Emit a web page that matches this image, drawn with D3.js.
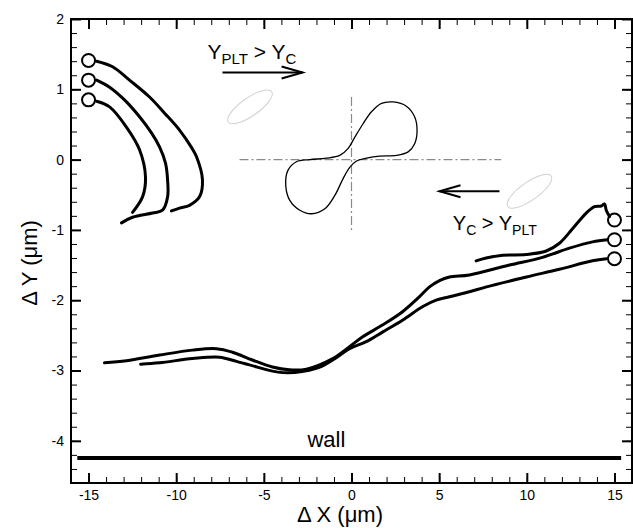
<!DOCTYPE html>
<html>
<head>
<meta charset="utf-8">
<script src="https://cdn.jsdelivr.net/npm/d3@7"></script>
<style>
  body { margin: 0; background: #fff; }
  text { font-family: 'Liberation Sans', Arial, sans-serif; }
</style>
</head>
<body>
<div id="chart"></div>
<script>
// tick values
const xTicks = [-15, -10, -5, 0, 5, 10, 15]
const yTicks = [2, 1, 0, -1, -2, -3, -4]

// start markers (circles)
const leftStarts = [[-15, 1.41], [-15, 1.13], [-15, 0.85]]
const rightStarts = [[15, -0.86], [15, -1.14], [15, -1.41]]

// trajectories starting on the left
const leftOuter = [[-14.54, 1.40], [-13.63, 1.32], [-12.66, 1.13], [-11.52, 0.89], [-10.66, 0.66],
  [-9.81, 0.42], [-9.12, 0.17], [-8.84, 0.04], [-8.50, -0.29], [-8.67, -0.53], [-9.24, -0.65],
  [-9.81, -0.69], [-10.27, -0.73]]
const leftMiddle = [[-14.54, 1.13], [-13.80, 1.03], [-12.95, 0.85], [-12.09, 0.61], [-11.41, 0.38],
  [-10.95, 0.18], [-10.61, -0.05], [-10.49, -0.29], [-10.49, -0.53], [-10.78, -0.72], [-11.35, -0.76],
  [-12.49, -0.82], [-13.12, -0.90]]
const leftInner = [[-14.54, 0.83], [-13.80, 0.75], [-12.83, 0.46], [-12.09, 0.14], [-11.75, -0.25],
  [-11.92, -0.53], [-12.49, -0.75]]

// trajectories starting on the right
const rightTop = [[7.11, -1.44], [7.68, -1.40], [8.63, -1.36], [9.96, -1.35], [11.11, -1.30],
  [11.86, -1.19], [12.62, -0.98], [13.39, -0.76], [13.86, -0.67], [14.24, -0.66], [14.43, -0.63],
  [14.53, -0.72], [14.72, -0.81]]
const rightMiddle = [[-14.09, -2.89], [-12.83, -2.86], [-10.95, -2.78], [-9.07, -2.71], [-7.70, -2.69],
  [-6.79, -2.74], [-5.65, -2.85], [-4.51, -2.95], [-3.54, -2.99], [-2.57, -2.98], [-1.07, -2.83],
  [-0.11, -2.66], [0.64, -2.52], [1.79, -2.35], [2.93, -2.16], [3.88, -1.95], [4.45, -1.81],
  [5.02, -1.72], [5.59, -1.67], [6.73, -1.64], [9.01, -1.50], [10.89, -1.39], [12.43, -1.26],
  [13.75, -1.17], [14.60, -1.14]]
const rightBottom = [[-12.03, -2.91], [-10.95, -2.89], [-9.07, -2.83], [-7.53, -2.81], [-6.56, -2.87],
  [-5.82, -2.92], [-3.92, -3.03], [-2.01, -2.97], [-1.07, -2.85], [-0.11, -2.69], [0.84, -2.59],
  [1.79, -2.45], [2.93, -2.28], [4.07, -2.09], [4.83, -2.00], [5.59, -1.95], [6.73, -1.88],
  [7.70, -1.81], [9.98, -1.67], [11.86, -1.56], [13.75, -1.44], [14.54, -1.41]]

// closed orbit in the middle
const orbit = [[2.37, 0.82], [3.13, 0.76], [3.60, 0.61], [3.74, 0.42], [3.61, 0.23], [3.23, 0.11],
  [2.57, 0.06], [1.61, 0.05], [0.86, 0.02], [0.29, -0.02], [-0.10, -0.11], [-0.48, -0.27],
  [-0.95, -0.51], [-1.52, -0.70], [-2.28, -0.77], [-2.95, -0.72], [-3.52, -0.58], [-3.75, -0.37],
  [-3.62, -0.15], [-3.14, -0.03], [-2.38, 0.00], [-1.43, 0.02], [-0.67, 0.06], [-0.19, 0.16],
  [0.19, 0.32], [0.66, 0.51], [1.14, 0.68], [1.71, 0.80]]

// crosshair, gray cells, arrows, wall
const crossX = [-6.39, 8.54]
const crossY = [-1.0, 0.89]
const cellCenters = [[-5.79, 0.75], [10.15, -0.45]]
const arrowRight = [[-7.36, 1.24], [-2.79, 1.24]]
const arrowLeft = [[8.44, -0.45], [5.02, -0.45]]
const wallLine = [[-15.64, -4.245], [15.38, -4.245]]
const wallLabel = [-2.51, -4.09]
const upperLabel = [-8.21, 1.43]
const lowerLabel = [5.78, -1.0]

const margin = { top: 19, left: 71, right: 1, bottom: 45 }
const width = 633 - margin.left - margin.right
const height = 528 - margin.top - margin.bottom

const root = d3.select('#chart')
  .append('svg')
  .attr('width', 633)
  .attr('height', 528)

const svg = root.append('g')
  .attr('transform', 'translate(' + margin.left + ',' + margin.top + ')')

const xScale = d3.scaleLinear().domain([-16, 16]).range([0, width])
const yScale = d3.scaleLinear().domain([-4.6, 2]).range([height, 0])

const xMinor = d3.range(-16, 16.01, 1)
const yMinor = d3.range(-4.6, 2.01, 0.2).map(v => Math.round(v * 10) / 10)

// axes, ticks pointing inward on all four sides
function styleAxis(g, w) {
  g.select('.domain').remove()
  g.selectAll('line').attr('stroke', '#000').attr('stroke-width', w)
  g.selectAll('text').attr('font-size', 14).attr('fill', '#000')
    .style('font-family', "'Liberation Sans', Arial, sans-serif")
}

svg.append('g').attr('transform', 'translate(0,' + height + ')')
  .call(d3.axisBottom(xScale).tickValues(xMinor).tickSize(-6).tickFormat(''))
  .call(g => styleAxis(g, 1))
svg.append('g').attr('transform', 'translate(0,' + height + ')')
  .call(d3.axisBottom(xScale).tickValues(xTicks).tickSize(-10).tickPadding(7).tickFormat(d => String(d)))
  .call(g => styleAxis(g, 2))
svg.append('g')
  .call(d3.axisTop(xScale).tickValues(xMinor).tickSize(-6).tickFormat(''))
  .call(g => styleAxis(g, 1))
svg.append('g')
  .call(d3.axisTop(xScale).tickValues(xTicks).tickSize(-10).tickFormat(''))
  .call(g => styleAxis(g, 2))

svg.append('g')
  .call(d3.axisLeft(yScale).tickValues(yMinor).tickSize(-6).tickFormat(''))
  .call(g => styleAxis(g, 1))
svg.append('g')
  .call(d3.axisLeft(yScale).tickValues(yTicks).tickSize(-10).tickPadding(7).tickFormat(d => String(d)))
  .call(g => styleAxis(g, 2))
svg.append('g').attr('transform', 'translate(' + width + ',0)')
  .call(d3.axisRight(yScale).tickValues(yMinor).tickSize(-6).tickFormat(''))
  .call(g => styleAxis(g, 1))
svg.append('g').attr('transform', 'translate(' + width + ',0)')
  .call(d3.axisRight(yScale).tickValues(yTicks).tickSize(-10).tickFormat(''))
  .call(g => styleAxis(g, 2))

svg.append('rect')
  .attr('width', width)
  .attr('height', height)
  .attr('fill', 'none')
  .attr('stroke', '#000')
  .attr('stroke-width', 2)

// axis titles
root.append('text')
  .attr('x', 340)
  .attr('y', 522)
  .attr('text-anchor', 'middle')
  .attr('font-size', 22)
  .text('\u0394 X (\u03bcm)')

root.append('text')
  .attr('transform', 'translate(37,263) rotate(-90)')
  .attr('text-anchor', 'middle')
  .attr('font-size', 22)
  .text('\u0394 Y (\u03bcm)')

const line = d3.line()
  .x(d => xScale(d[0]))
  .y(d => yScale(d[1]))
  .curve(d3.curveCatmullRom.alpha(0.5))

// crosshair
svg.append('line')
  .attr('x1', xScale(crossX[0])).attr('x2', xScale(crossX[1]))
  .attr('y1', yScale(0)).attr('y2', yScale(0))
  .attr('stroke', '#8a8a8a').attr('stroke-width', 1.2)
  .attr('stroke-dasharray', '9,3,2,3')
svg.append('line')
  .attr('x1', xScale(0)).attr('x2', xScale(0))
  .attr('y1', yScale(crossY[1])).attr('y2', yScale(crossY[0]))
  .attr('stroke', '#8a8a8a').attr('stroke-width', 1.2)
  .attr('stroke-dasharray', '9,3,2,3')

// faint cell outlines
svg.selectAll('.cell')
  .data(cellCenters)
  .enter()
  .append('ellipse')
  .attr('class', 'cell')
  .attr('transform', d => 'translate(' + xScale(d[0]) + ',' + yScale(d[1]) + ') rotate(-35)')
  .attr('rx', 26.5)
  .attr('ry', 9)
  .attr('fill', 'none')
  .attr('stroke', '#d0d0d0')
  .attr('stroke-width', 1)

// central orbit
svg.append('path')
  .datum(orbit)
  .attr('d', d3.line()
    .x(d => xScale(d[0]))
    .y(d => yScale(d[1]))
    .curve(d3.curveCatmullRomClosed.alpha(0.5)))
  .attr('fill', 'none')
  .attr('stroke', '#000')
  .attr('stroke-width', 1.3)

// trajectories
const trajectories = [leftOuter, leftMiddle, leftInner, rightTop, rightMiddle, rightBottom]
svg.selectAll('.traj')
  .data(trajectories)
  .enter()
  .append('path')
  .attr('class', 'traj')
  .attr('d', line)
  .attr('fill', 'none')
  .attr('stroke', '#000')
  .attr('stroke-width', 3)
  .attr('stroke-linecap', 'round')
  .attr('stroke-linejoin', 'round')

svg.selectAll('.start')
  .data(leftStarts.concat(rightStarts))
  .enter()
  .append('circle')
  .attr('class', 'start')
  .attr('cx', d => xScale(d[0]))
  .attr('cy', d => yScale(d[1]))
  .attr('r', 6.5)
  .attr('fill', 'none')
  .attr('stroke', '#000')
  .attr('stroke-width', 2)

// wall
svg.append('line')
  .attr('x1', xScale(wallLine[0][0])).attr('x2', xScale(wallLine[1][0]))
  .attr('y1', yScale(wallLine[0][1])).attr('y2', yScale(wallLine[1][1]))
  .attr('stroke', '#000')
  .attr('stroke-width', 4)
svg.append('text')
  .attr('x', xScale(wallLabel[0]))
  .attr('y', yScale(wallLabel[1]))
  .attr('font-size', 22)
  .text('wall')

// arrows with open heads
function drawArrow(pts) {
  const x1 = xScale(pts[0][0])
  const x2 = xScale(pts[1][0])
  const y = yScale(pts[0][1])
  const dir = x2 > x1 ? 1 : -1
  svg.append('line')
    .attr('x1', x1).attr('x2', x2).attr('y1', y).attr('y2', y)
    .attr('stroke', '#000').attr('stroke-width', 2)
  svg.append('path')
    .attr('d', 'M' + (x2 - dir * 21) + ',' + (y - 6) + 'L' + x2 + ',' + y + 'L' + (x2 - dir * 21) + ',' + (y + 6))
    .attr('fill', 'none').attr('stroke', '#000').attr('stroke-width', 2)
}
drawArrow(arrowRight)
drawArrow(arrowLeft)

// labels with subscripts
const up = svg.append('text')
  .attr('x', xScale(upperLabel[0]))
  .attr('y', yScale(upperLabel[1]))
  .attr('font-size', 21)
up.append('tspan').text('Y')
up.append('tspan').attr('font-size', 15).attr('dy', 5).text('PLT')
up.append('tspan').attr('dy', -5).text(' > Y')
up.append('tspan').attr('font-size', 15).attr('dy', 5).text('C')

const low = svg.append('text')
  .attr('x', xScale(lowerLabel[0]))
  .attr('y', yScale(lowerLabel[1]))
  .attr('font-size', 20)
low.append('tspan').text('Y')
low.append('tspan').attr('font-size', 14).attr('dy', 5).text('C')
low.append('tspan').attr('dy', -5).text(' > Y')
low.append('tspan').attr('font-size', 14).attr('dy', 5).text('PLT')
</script>
</body>
</html>
